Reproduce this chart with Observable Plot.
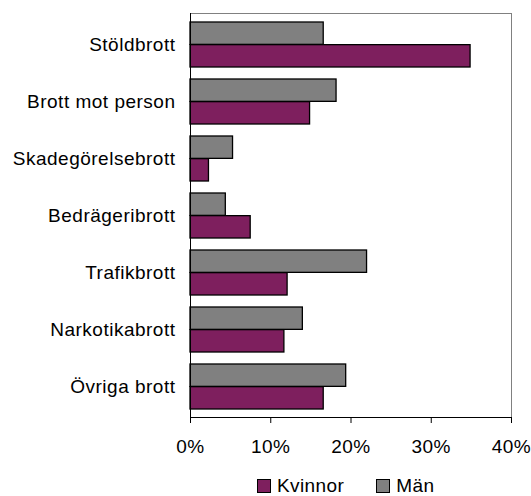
<!DOCTYPE html>
<html><head><meta charset="utf-8">
<script src="https://cdn.jsdelivr.net/npm/d3@7"></script>
<script src="https://cdn.jsdelivr.net/npm/@observablehq/plot@0.6"></script>
<style>
body{margin:0;background:#fff;font-family:"Liberation Sans",Arial,sans-serif;}
#wrap{position:relative;width:531px;height:496px;}
.legend{position:absolute;top:476px;left:257px;display:flex;align-items:center;font-size:19px;letter-spacing:0.4px;color:#000;line-height:20px}
.item{display:flex;align-items:center;margin-right:32px}
.sw{width:12px;height:12px;border:1px solid #000;display:inline-block;margin-right:6px}
</style></head><body><div id="wrap"></div>
<script>
const categories = ["Stöldbrott","Brott mot person","Skadegörelsebrott","Bedrägeribrott","Trafikbrott","Narkotikabrott","Övriga brott"];
const kvinnor = [34.9, 14.9, 2.3, 7.5, 12.1, 11.7, 16.6];
const man = [16.6, 18.2, 5.3, 4.4, 22.0, 14.0, 19.4];
const xTicks = [0, 10, 20, 30, 40];
const seriesNames = ["Kvinnor", "Män"];
const colors = ["#7e1f5e", "#808080"];

const data = categories.map((c, i) => ({category: c, Kvinnor: kvinnor[i], Man: man[i]}));

const chart = Plot.plot({
  width: 531, height: 470,
  marginLeft: 190, marginRight: 20, marginTop: 13, marginBottom: 53,
  style: {fontFamily: "Liberation Sans, Arial, sans-serif", fontSize: "19px", color: "#000", background: "#fff", letterSpacing: "0.5px"},
  x: {domain: [0, 40], ticks: xTicks, tickFormat: d => d + "%", tickSize: 6, tickPadding: 16, label: null},
  y: {domain: categories, paddingInner: 0.215, paddingOuter: 0.1075, tickSize: 0, tickPadding: 15, label: null},
  marks: [
    Plot.frame({stroke: "#808080"}),
    Plot.barX(data, {y: "category", x: "Man", fill: colors[1], stroke: "#000", strokeWidth: 1.3, insetBottom: 22.65}),
    Plot.barX(data, {y: "category", x: "Kvinnor", fill: colors[0], stroke: "#000", strokeWidth: 1.3, insetTop: 22.65}),
    Plot.ruleX([0], {stroke: "#000"}),
    Plot.frame({anchor: "bottom", stroke: "#000"})
  ]
});
const wrap = document.getElementById("wrap");
wrap.appendChild(chart);
const legend = document.createElement("div");
legend.className = "legend";
seriesNames.forEach((s, i) => {
  const it = document.createElement("div");
  it.className = "item";
  const sw = document.createElement("span");
  sw.className = "sw";
  sw.style.background = colors[i];
  const t = document.createElement("span");
  t.textContent = s;
  it.appendChild(sw); it.appendChild(t);
  legend.appendChild(it);
});
wrap.appendChild(legend);
</script></body></html>
